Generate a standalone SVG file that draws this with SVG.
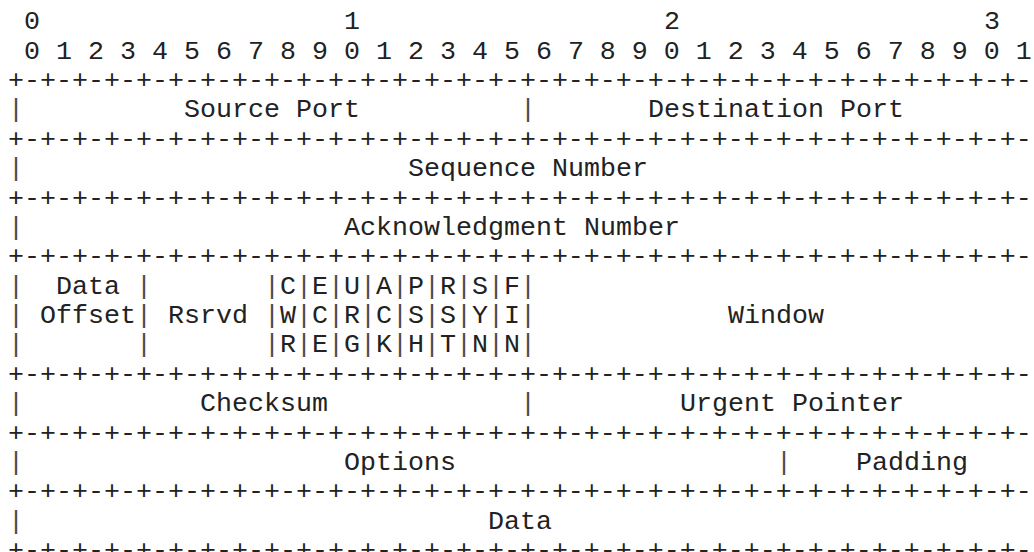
<svg xmlns="http://www.w3.org/2000/svg" width="1034" height="552" viewBox="0 0 1034 552">
<style>
text{font-family:"Courier New","Liberation Mono",monospace;font-size:26.667px;fill:#222222;white-space:pre}
.bar{fill:#4a4a4a}
</style>
<rect width="1034" height="552" fill="#ffffff"/>
<g id="ruler">
<text x="24" y="29.3">0</text><text x="344" y="29.3">1</text><text x="664" y="29.3">2</text><text x="984" y="29.3">3</text>
<text x="24" y="58.7" xml:space="preserve">0 1 2 3 4 5 6 7 8 9 0 1 2 3 4 5 6 7 8 9 0 1 2 3 4 5 6 7 8 9 0 1</text>
</g>
<g id="connectors">
<text x="8" y="88.1">+-+-+-+-+-+-+-+-+-+-+-+-+-+-+-+-+-+-+-+-+-+-+-+-+-+-+-+-+-+-+-+-</text>
<text x="8" y="146.8">+-+-+-+-+-+-+-+-+-+-+-+-+-+-+-+-+-+-+-+-+-+-+-+-+-+-+-+-+-+-+-+-</text>
<text x="8" y="205.6">+-+-+-+-+-+-+-+-+-+-+-+-+-+-+-+-+-+-+-+-+-+-+-+-+-+-+-+-+-+-+-+-</text>
<text x="8" y="264.3">+-+-+-+-+-+-+-+-+-+-+-+-+-+-+-+-+-+-+-+-+-+-+-+-+-+-+-+-+-+-+-+-</text>
<text x="8" y="381.8">+-+-+-+-+-+-+-+-+-+-+-+-+-+-+-+-+-+-+-+-+-+-+-+-+-+-+-+-+-+-+-+-</text>
<text x="8" y="440.6">+-+-+-+-+-+-+-+-+-+-+-+-+-+-+-+-+-+-+-+-+-+-+-+-+-+-+-+-+-+-+-+-</text>
<text x="8" y="499.3">+-+-+-+-+-+-+-+-+-+-+-+-+-+-+-+-+-+-+-+-+-+-+-+-+-+-+-+-+-+-+-+-</text>
<text x="8" y="558.1">+-+-+-+-+-+-+-+-+-+-+-+-+-+-+-+-+-+-+-+-+-+-+-+-+-+-+-+-+-+-+-+-</text>
<g class="pipes">
<text class="bar" x="8" y="117.4">|</text><text class="bar" x="520" y="117.4">|</text>
<text class="bar" x="8" y="176.2">|</text>
<text class="bar" x="8" y="234.9">|</text>
<text class="bar" x="8" y="293.7">|</text><text class="bar" x="136" y="293.7">|</text><text class="bar" x="264" y="293.7">|</text><text class="bar" x="296" y="293.7">|</text><text class="bar" x="328" y="293.7">|</text><text class="bar" x="360" y="293.7">|</text><text class="bar" x="392" y="293.7">|</text><text class="bar" x="424" y="293.7">|</text><text class="bar" x="456" y="293.7">|</text><text class="bar" x="488" y="293.7">|</text><text class="bar" x="520" y="293.7">|</text>
<text class="bar" x="8" y="323.1">|</text><text class="bar" x="136" y="323.1">|</text><text class="bar" x="264" y="323.1">|</text><text class="bar" x="296" y="323.1">|</text><text class="bar" x="328" y="323.1">|</text><text class="bar" x="360" y="323.1">|</text><text class="bar" x="392" y="323.1">|</text><text class="bar" x="424" y="323.1">|</text><text class="bar" x="456" y="323.1">|</text><text class="bar" x="488" y="323.1">|</text><text class="bar" x="520" y="323.1">|</text>
<text class="bar" x="8" y="352.4">|</text><text class="bar" x="136" y="352.4">|</text><text class="bar" x="264" y="352.4">|</text><text class="bar" x="296" y="352.4">|</text><text class="bar" x="328" y="352.4">|</text><text class="bar" x="360" y="352.4">|</text><text class="bar" x="392" y="352.4">|</text><text class="bar" x="424" y="352.4">|</text><text class="bar" x="456" y="352.4">|</text><text class="bar" x="488" y="352.4">|</text><text class="bar" x="520" y="352.4">|</text>
<text class="bar" x="8" y="411.2">|</text><text class="bar" x="520" y="411.2">|</text>
<text class="bar" x="8" y="469.9">|</text><text class="bar" x="776" y="469.9">|</text>
<text class="bar" x="8" y="528.7">|</text>
</g>
</g>
<g id="source-port"><text x="184" y="117.4">Source Port</text></g>
<g id="destination-port"><text x="648" y="117.4">Destination Port</text></g>
<g id="sequence-number"><text x="408" y="176.2">Sequence Number</text></g>
<g id="acknowledgment-number"><text x="344" y="234.9">Acknowledgment Number</text></g>
<g id="data-offset"><text x="56" y="293.7">Data</text><text x="40" y="323.1">Offset</text></g>
<g id="rsrvd"><text x="168" y="323.1">Rsrvd</text></g>
<g id="flag-cwr"><text x="280" y="293.7">C</text><text x="280" y="323.1">W</text><text x="280" y="352.4">R</text></g>
<g id="flag-ece"><text x="312" y="293.7">E</text><text x="312" y="323.1">C</text><text x="312" y="352.4">E</text></g>
<g id="flag-urg"><text x="344" y="293.7">U</text><text x="344" y="323.1">R</text><text x="344" y="352.4">G</text></g>
<g id="flag-ack"><text x="376" y="293.7">A</text><text x="376" y="323.1">C</text><text x="376" y="352.4">K</text></g>
<g id="flag-psh"><text x="408" y="293.7">P</text><text x="408" y="323.1">S</text><text x="408" y="352.4">H</text></g>
<g id="flag-rst"><text x="440" y="293.7">R</text><text x="440" y="323.1">S</text><text x="440" y="352.4">T</text></g>
<g id="flag-syn"><text x="472" y="293.7">S</text><text x="472" y="323.1">Y</text><text x="472" y="352.4">N</text></g>
<g id="flag-fin"><text x="504" y="293.7">F</text><text x="504" y="323.1">I</text><text x="504" y="352.4">N</text></g>
<g id="window"><text x="728" y="323.1">Window</text></g>
<g id="checksum"><text x="200" y="411.2">Checksum</text></g>
<g id="urgent-pointer"><text x="680" y="411.2">Urgent Pointer</text></g>
<g id="options"><text x="344" y="469.9">Options</text></g>
<g id="padding"><text x="856" y="469.9">Padding</text></g>
<g id="data"><text x="488" y="528.7">Data</text></g>
</svg>
